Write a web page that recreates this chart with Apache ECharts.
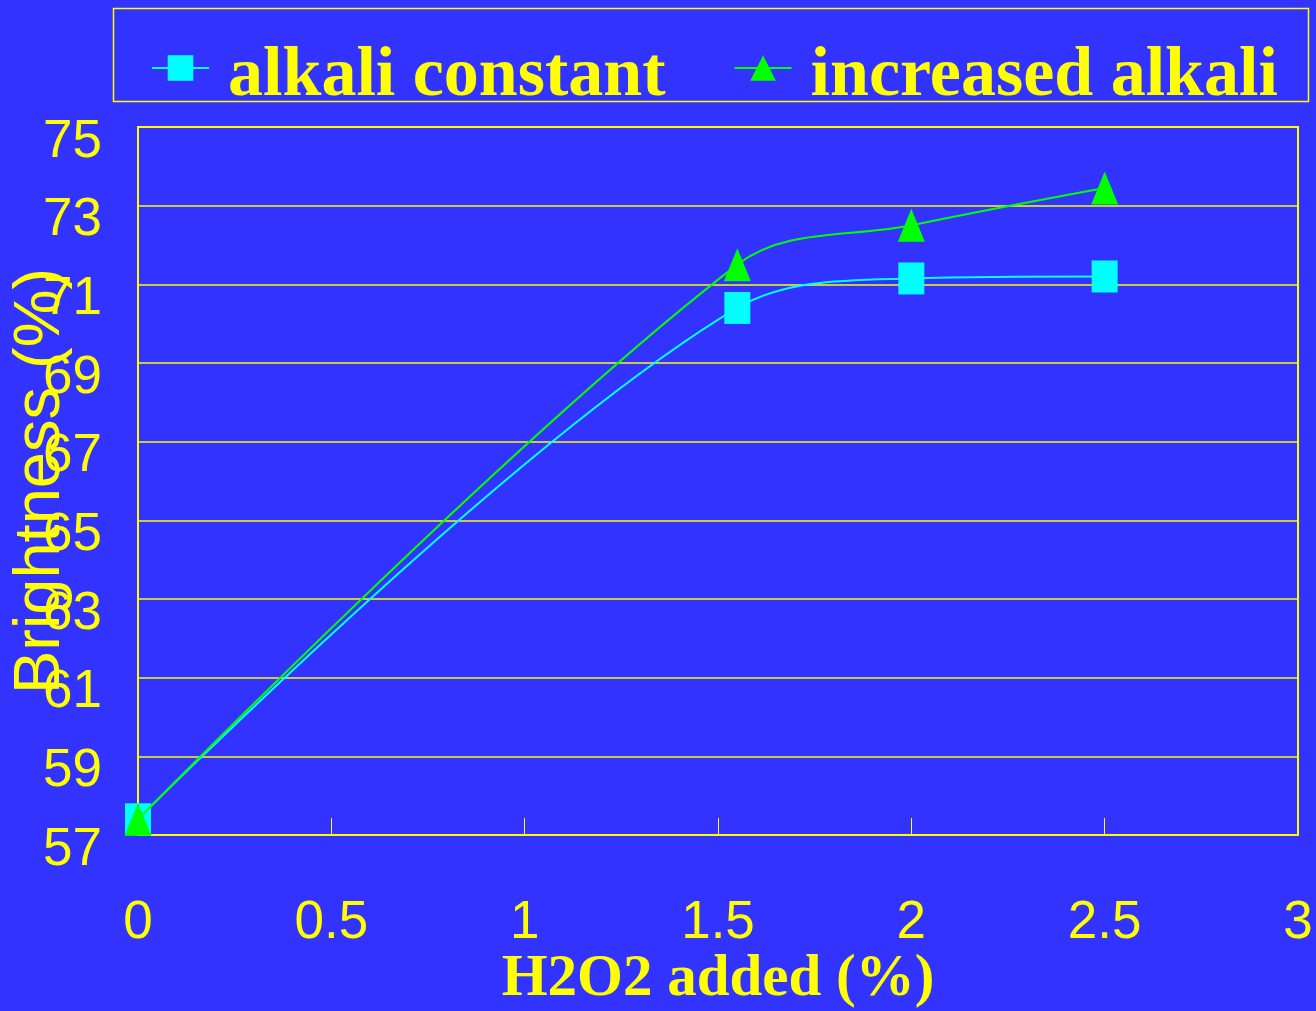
<!DOCTYPE html>
<html>
<head>
<meta charset="utf-8">
<script src="https://cdn.jsdelivr.net/npm/echarts@6/dist/echarts.min.js"></script>
<style>
html,body{margin:0;padding:0;background:#3333FF;}
#chart{width:1316px;height:1011px;}
</style>
</head>
<body>
<div id="chart"></div>
<script>
// Data
const seriesNames = ['alkali constant', 'increased alkali'];
const h2o2Added = [0, 1.55, 2, 2.5];
const alkaliConstant = [57.4, 70.4, 71.15, 71.2];
const increasedAlkali = [57.4, 71.5, 72.5, 73.45];
const yTicks = [57, 59, 61, 63, 65, 67, 69, 71, 73, 75];
const xTicks = [0, 0.5, 1, 1.5, 2, 2.5, 3];
const xAxisTitle = 'H2O2 added (%)';
const yAxisTitle = 'Brightness (%)';

const YELLOW = '#FFFF00';
const SANS = "'Liberation Sans Narrow', 'Arial Narrow', 'Liberation Sans', Arial, sans-serif";
const SERIF = "'Liberation Serif', 'Times New Roman', serif";

function pairs(xs, ys) { return xs.map((x, i) => [x, ys[i]]); }

const chart = echarts.init(document.getElementById('chart'));
chart.setOption({
  animation: false,
  backgroundColor: '#3333FF',
  graphic: [{
    type: 'rect',
    left: 111,
    top: 6,
    shape: { width: 1195, height: 93 },
    style: { fill: 'none', stroke: YELLOW, lineWidth: 1.5 },
    silent: true
  }],
  legend: {
    left: 151,
    top: 42,
    orient: 'horizontal',
    data: seriesNames,
    itemWidth: 57,
    itemHeight: 32,
    itemGap: 68,
    padding: 0,
    formatter: '{t|{name}}',
    textStyle: {
      color: YELLOW,
      fontFamily: SERIF,
      fontWeight: 'bold',
      fontSize: 70,
      padding: [0, 0, 0, 14],
      rich: {
        t: {
          color: YELLOW,
          fontFamily: SERIF,
          fontWeight: 'bold',
          fontSize: 70,
          padding: [18, 0, 0, 0]
        }
      }
    }
  },
  grid: {
    left: 138,
    right: 18,
    top: 127,
    bottom: 176,
    outerBoundsMode: 'none',
    containLabel: false,
    show: true,
    borderColor: YELLOW,
    borderWidth: 2,
    backgroundColor: 'transparent'
  },
  xAxis: {
    type: 'value',
    min: xTicks[0],
    max: xTicks[xTicks.length - 1],
    interval: 0.5,
    name: xAxisTitle,
    nameLocation: 'middle',
    nameGap: 115,
    nameMoveOverlap: false,
    nameTextStyle: {
      color: YELLOW,
      fontFamily: SERIF,
      fontWeight: 'bold',
      fontSize: 59
    },
    axisLine: { show: true, lineStyle: { color: YELLOW, width: 2 } },
    axisTick: { show: true, inside: true, length: 17, lineStyle: { color: YELLOW, width: 1 } },
    splitLine: { show: false },
    axisLabel: {
      color: YELLOW,
      fontFamily: SANS,
      fontSize: 53,
      margin: 62,
      showMinLabel: true,
      showMaxLabel: true
    }
  },
  yAxis: {
    type: 'value',
    min: yTicks[0],
    max: yTicks[yTicks.length - 1],
    interval: 2,
    name: yAxisTitle,
    nameLocation: 'middle',
    nameRotate: 90,
    nameGap: 64,
    nameMoveOverlap: false,
    nameTextStyle: {
      color: YELLOW,
      fontFamily: "'Liberation Sans', Arial, sans-serif",
      fontSize: 65
    },
    axisLine: { show: true, lineStyle: { color: YELLOW, width: 2 } },
    axisTick: { show: false },
    splitLine: { show: true, lineStyle: { color: YELLOW, width: 1.5 } },
    axisLabel: {
      color: YELLOW,
      fontFamily: SANS,
      fontSize: 53,
      margin: 36,
      verticalAlign: 'top',
      lineHeight: 30,
      showMinLabel: true,
      showMaxLabel: true
    }
  },
  series: [
    {
      name: seriesNames[0],
      type: 'line',
      data: pairs(h2o2Added, alkaliConstant),
      smooth: 0.35,
      symbol: 'rect',
      symbolSize: [26, 32],
      itemStyle: { color: '#00FFFF' },
      lineStyle: { color: '#00FFFF', width: 2 },
      z: 2
    },
    {
      name: seriesNames[1],
      type: 'line',
      data: pairs(h2o2Added, increasedAlkali),
      smooth: 0.35,
      symbol: 'triangle',
      symbolSize: [27, 33],
      itemStyle: { color: '#00FF00' },
      lineStyle: { color: '#00FF00', width: 2 },
      z: 3
    }
  ]
});
</script>
</body>
</html>
